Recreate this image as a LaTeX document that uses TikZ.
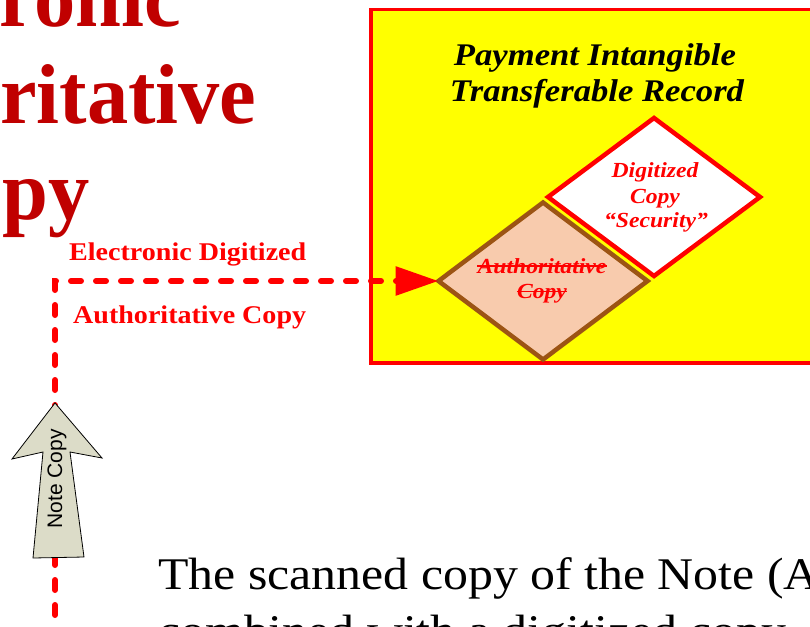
\documentclass[tikz,border=0pt]{standalone}
\usepackage{fontspec}
\setmainfont{Liberation Serif}[FakeStretch=1.1]
\newfontfamily\headfont{Liberation Serif}[FakeStretch=0.97]
\newfontfamily\notefont{Liberation Sans}
\usetikzlibrary{arrows.meta,shapes.geometric}

\definecolor{titlered}{HTML}{C00000}
\definecolor{brightred}{HTML}{FF0000}
\definecolor{recordyellow}{HTML}{FFFF00}
\definecolor{copybrown}{HTML}{9C5414}
\definecolor{copypeach}{HTML}{F8CBAD}
\definecolor{notefill}{HTML}{DCDCC8}

\begin{document}
\begin{tikzpicture}[x=1pt,y=-1pt,
  bigtitle/.style={inner sep=0pt, anchor=base west, text=titlered,
    font=\headfont\fontsize{85}{85}\selectfont\bfseries},
  recordtitle/.style={inner sep=0pt, anchor=base,
    font=\fontsize{31.5}{36}\selectfont\bfseries\itshape},
  diamondtext/.style={inner sep=0pt, anchor=base, text=brightred,
    font=\fontsize{21.5}{25}\selectfont\bfseries\itshape},
  pathlabel/.style={inner sep=0pt, anchor=base west, text=brightred,
    font=\fontsize{25.5}{30}\selectfont\bfseries},
  bodytext/.style={inner sep=0pt, anchor=base west,
    font=\fontsize{45.3}{48}\selectfont},
  recordbox/.style={draw=brightred, fill=recordyellow, line width=3.5pt},
  securitydiamond/.style={diamond, draw=brightred, fill=white, line width=4.5pt,
    minimum width=212pt, minimum height=158pt, inner sep=0pt, outer sep=0pt},
  authdiamond/.style={diamond, draw=copybrown, fill=copypeach, line width=4.5pt,
    minimum width=209pt, minimum height=157pt, inner sep=0pt, outer sep=0pt},
  flow/.style={draw=brightred, line width=6pt, line cap=round,
    dash pattern=on 10pt off 15pt},
  blockarrow/.style={draw=black, fill=notefill, line width=0.8pt, line join=miter},
  strike/.style={draw=brightred, line width=1.4pt}
]
\useasboundingbox (0,0) rectangle (810,626);
\clip (0,0) rectangle (810,626);
\fill[white] (0,0) rectangle (810,626);

% yellow record panel
\draw[recordbox] (371,9.5) rectangle (840,363);
\node[recordtitle] (rt1) at (595,65) {Payment Intangible};
\node[recordtitle] (rt2) at (597,101) {Transferable Record};

% the two diamonds
\node[securitydiamond] (sec) at (654,197) {};
\node[authdiamond] (auth) at (543,281) {};

\node[diamondtext] (sec1) at (655,177) {Digitized};
\node[diamondtext] (sec2) at (655,203) {Copy};
\node[diamondtext] (sec3) at (656,227) {“Security”};

\node[diamondtext] (auth1) at (542,273) {Authoritative};
\node[diamondtext] (auth2) at (542,298) {Copy};
\draw[strike] ([yshift=7pt]auth1.base west) -- ([yshift=7pt]auth1.base east);
\draw[strike] ([yshift=6.5pt]auth2.base west) -- ([yshift=6.5pt]auth2.base east);

% dashed flow from the note copy into the record
\coordinate (start) at (55,640);
\coordinate (corner) at (55,281);
\draw[flow, -{Triangle[length=43pt,width=28pt]}] (start) -- (corner) -- (auth.west);

% block arrow carrying the note copy
\draw[blockarrow] (55,403) -- (102,458) -- (70,452) -- (84,557) -- (33,558)
  -- (43,452) -- (12,459) -- cycle;
\node[rotate=90, inner sep=0pt, font=\notefont\fontsize{21}{21}\selectfont]
  (notecopy) at (57,479) {Note Copy};

% labels on the flow
\node[pathlabel] (lab1) at (69,260) {Electronic Digitized};
\node[pathlabel] (lab2) at (73,323) {Authoritative Copy};

% large heading, its first letters running off the left edge
\node[bigtitle] (h1) at (-1,27) {\llap{Elect}ronic};
\node[bigtitle] (h2) at (0,123) {\llap{Autho}ritative};
\node[bigtitle] (h3) at (2,219) {\llap{Co}py};

% body text
\node[bodytext] (body1) at (158,589) {The scanned copy of the Note (A};
\node[bodytext] (body2) at (158,646) {combined with a digitized copy};
\end{tikzpicture}
\end{document}
